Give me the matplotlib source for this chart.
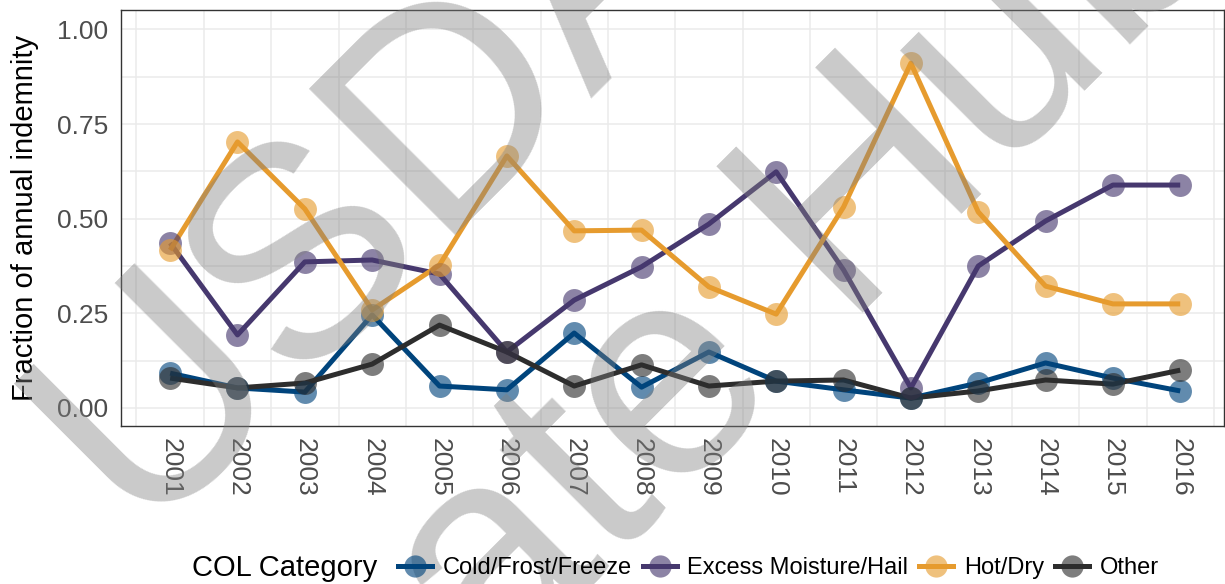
"""
Fraction of annual indemnity by cause-of-loss category, 2001-2016.
"""

import matplotlib
matplotlib.use('Agg')
import matplotlib.pyplot as plt
from matplotlib.lines import Line2D
from matplotlib.legend_handler import HandlerTuple
import numpy as np

plt.rcParams['font.family'] = ['Liberation Sans', 'DejaVu Sans']

years = list(range(2001, 2017))
categories = ['Cold/Frost/Freeze', 'Excess Moisture/Hail', 'Hot/Dry', 'Other']
cold = [0.092, 0.053, 0.042, 0.246, 0.058, 0.048, 0.198, 0.055,
        0.148, 0.071, 0.048, 0.026, 0.066, 0.119, 0.079, 0.045]
moist = [0.436, 0.193, 0.386, 0.391, 0.354, 0.148, 0.285, 0.373,
         0.486, 0.624, 0.365, 0.053, 0.375, 0.494, 0.589, 0.589]
hot = [0.417, 0.703, 0.526, 0.259, 0.378, 0.666, 0.468, 0.470,
       0.320, 0.248, 0.531, 0.911, 0.518, 0.322, 0.275, 0.275]
other = [0.079, 0.053, 0.066, 0.116, 0.219, 0.148, 0.058, 0.114,
         0.058, 0.071, 0.074, 0.026, 0.045, 0.074, 0.063, 0.100]
series = [cold, moist, hot, other]
colors = ['#00447c', '#46386e', '#e69b2e', '#2d2d2d']

W, H = 1225, 584
fig = plt.figure(figsize=(W / 100, H / 100), dpi=100)
ax = fig.add_axes([121 / W, 1 - 426 / H, (1224 - 121) / W, (426 - 10) / H])

for vals, c in zip(series, colors):
    ax.plot(years, vals, color=c, lw=3.6, solid_capstyle='butt', zorder=3)
for vals, c in zip(series, colors):
    ax.plot(years, vals, 'o', color=c, ms=16.5, mew=0, alpha=0.62, zorder=4)

ax.set_xlim(2000.27, 2016.65)
ax.set_ylim(-0.0476, 1.0515)
ax.set_yticks([0, 0.25, 0.5, 0.75, 1.0])
ax.set_yticklabels(['0.00', '0.25', '0.50', '0.75', '1.00'])
ax.set_yticks(np.arange(0.125, 1.0, 0.25), minor=True)
ax.set_xticks(years)
ax.set_xticklabels([str(y) for y in years], rotation=-90)
ax.set_xticks(np.arange(2000.5, 2017, 1.0), minor=True)
ax.grid(which='both', axis='y', color='#ebebeb', lw=1.1, zorder=0)
ax.grid(which='minor', axis='x', color='#ebebeb', lw=1.1, zorder=0)
ax.set_axisbelow(True)
ax.tick_params(which='both', length=0)
ax.tick_params(axis='y', labelsize=19, labelcolor='#4d4d4d', pad=9)
ax.tick_params(axis='x', labelsize=19, labelcolor='#4d4d4d', pad=9)
for s in ax.spines.values():
    s.set_color('#333333')
    s.set_linewidth(1.0)

fig.text(25 / W, 1 - 218 / H, 'Fraction of annual indemnity', rotation=90,
         ha='center', va='center', fontsize=21, color='black')

# legend: title on the left, keys in one row
handles = []
for c in colors:
    ln = Line2D([], [], color=c, lw=3.6)
    pt = Line2D([], [], marker='o', ls='', color=c, ms=16, mew=0, alpha=0.62)
    handles.append((ln, pt))
fig.text(192 / W, 1 - 568 / H, 'COL Category', ha='left', va='center',
         fontsize=21, color='black')
fig.legend(handles, categories, handler_map={tuple: HandlerTuple(ndivide=1)},
           loc='center left', bbox_to_anchor=(398 / W, 1 - 568 / H), ncol=4,
           frameon=False, borderpad=0, borderaxespad=0, fontsize=17,
           handlelength=1.45, handletextpad=0.45, columnspacing=0.45)

# watermark
fig.text(432 / W, 1 - 235 / H, 'USDA', rotation=45, rotation_mode='anchor',
         ha='center', va='baseline', fontsize=216, color='#808080', alpha=0.42)
fig.text(652 / W, 1 - 524 / H, 'Climate Hub', rotation=45, rotation_mode='anchor',
         ha='center', va='baseline', fontsize=216, color='#808080', alpha=0.42)

fig.savefig('out.png', dpi=100)
